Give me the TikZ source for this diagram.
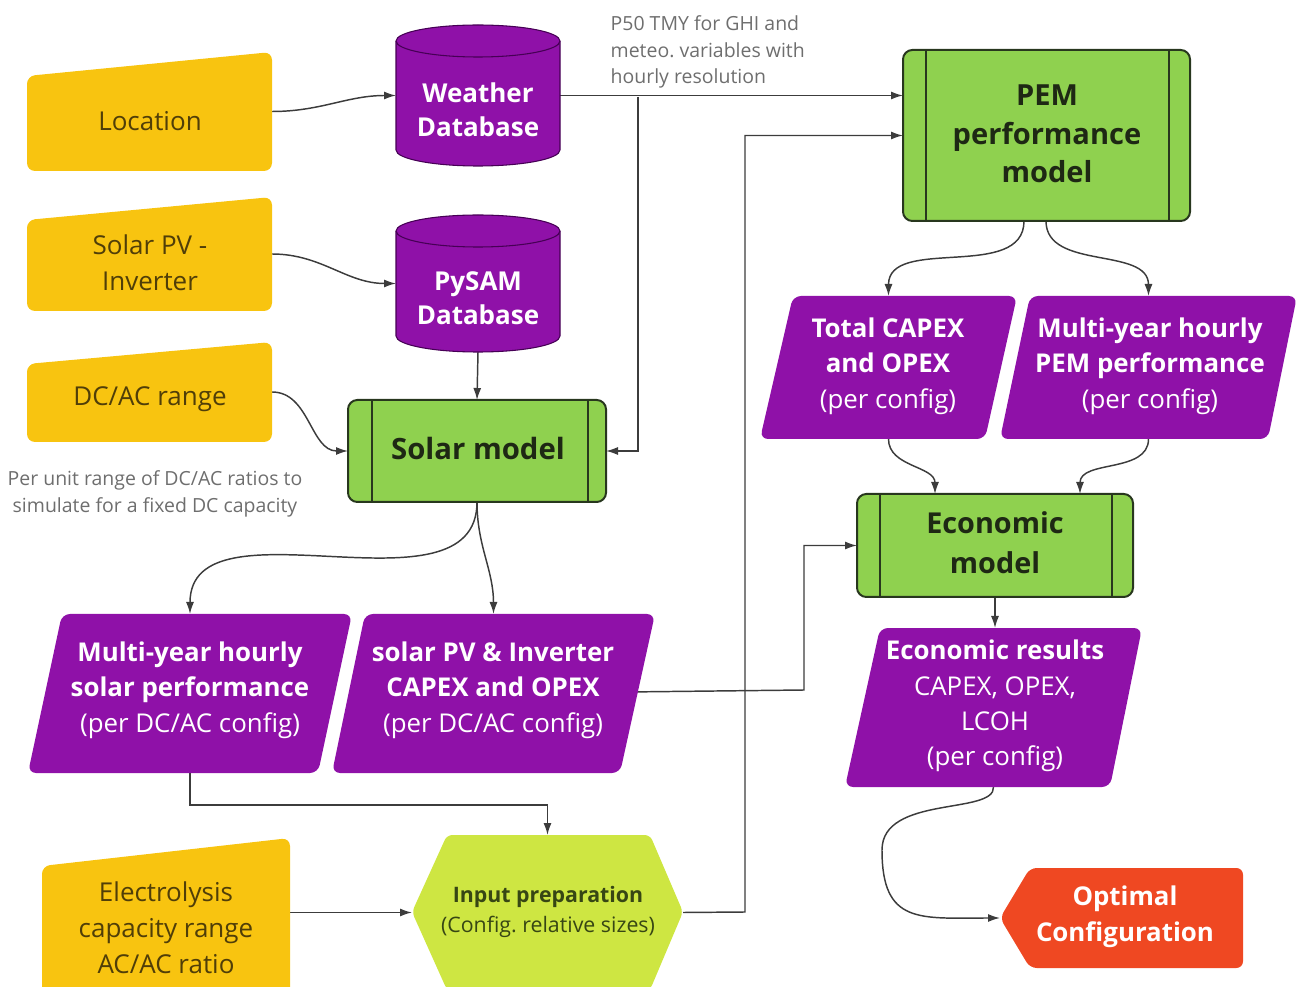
\documentclass[tikz,border=0pt]{standalone}
\usepackage{fontspec}
\setmainfont{Open Sans}
\usetikzlibrary{fit,calc,arrows.meta}
\frenchspacing
\definecolor{yel}{RGB}{248,196,16}
\definecolor{pur}{RGB}{143,17,168}
\definecolor{purd}{RGB}{70,0,85}
\definecolor{grn}{RGB}{143,209,79}
\definecolor{grnd}{RGB}{40,55,30}
\definecolor{lime}{RGB}{206,230,66}
\definecolor{org}{RGB}{239,72,34}
\definecolor{ytxt}{RGB}{80,62,8}
\definecolor{gtxt}{RGB}{30,40,20}
\definecolor{ltxt}{RGB}{55,70,20}
\definecolor{conn}{RGB}{60,60,60}
\definecolor{note}{RGB}{110,110,110}
\tikzset{
  box/.style={inner sep=0pt, outer sep=0pt},
  arr/.style={draw=conn, line width=1.1pt, -{Latex[length=9pt,width=6pt]}},
  yshape/.style={fill=yel, rounded corners=6pt},
  pshape/.style={fill=pur, rounded corners=6pt},
  gshape/.style={fill=grn, draw=grnd, line width=1.5pt, rounded corners=7pt},
  ylab/.style={align=center, text=ytxt, font=\fontsize{19.5}{27}\selectfont},
  plab/.style={align=center, text=white, font=\fontsize{19.4}{26.5}\selectfont},
  glab/.style={align=center, text=gtxt, font=\bfseries\fontsize{22}{30}\selectfont},
  notelab/.style={align=left, text=note, font=\fontsize{14.6}{20}\selectfont},
}
\begin{document}
\begin{tikzpicture}[x=0.75pt,y=-0.75pt]
\useasboundingbox (0,0) rectangle (1297,987);
\clip (0,0) rectangle (1297,987);
% ---------- invisible bounds of the shapes ----------
\node[box, fit={(27,52)(272,171)}] (loc) {};
\node[box, fit={(27,197)(272,311)}] (pv) {};
\node[box, fit={(27,342)(272,442)}] (dcac) {};
\node[box, fit={(42,838)(290,987)}] (elec) {};
\node[box, fit={(396,25)(560,166)}] (wdb) {};
\node[box, fit={(396,215)(560,352)}] (pdb) {};
\node[box, fit={(348,400)(606,502)}] (solar) {};
\node[box, fit={(903,50)(1190,221)}] (pem) {};
\node[box, fit={(760,296)(1017,439)}] (tcap) {};
\node[box, fit={(1000,296)(1297,439)}] (mpem) {};
\node[box, fit={(857,494)(1133,597)}] (econ) {};
\node[box, fit={(845,628)(1142,787)}] (eres) {};
\node[box, fit={(28,614)(352,773)}] (msol) {};
\node[box, fit={(332,614)(655,773)}] (spv) {};
\node[box, fit={(412,835)(683,990)}] (inp) {};
\node[box, fit={(1000,868)(1243,968)}] (opt) {};
\coordinate (jw) at (638,97);
\coordinate (pemA) at (1024,221);
\coordinate (pemB) at (1046,221);
% ---------- connectors ----------
\draw[arr] (loc.east) to[out=0,in=180] (wdb.west);
\draw[arr] (pv.east) to[out=0,in=180] (pdb.west);
\draw[arr] (dcac.east) to[out=0,in=180] (solar.west);
\draw[arr] (pdb.south) -- (solar.north);
\draw[arr] (wdb.east) -- (wdb.east -| pem.west);
\draw[arr] (jw) |- (solar.east);
\draw[arr] (inp.east) -- (745,912) |- (pem.west);
\draw[arr] (pemA) to[out=-90,in=90] (tcap.north);
\draw[arr] (pemB) to[out=-90,in=90] (mpem.north);
\draw[arr] (tcap.south) to[out=-90,in=90] ($(econ.north)+(-60,0)$);
\draw[arr] (mpem.south) to[out=-90,in=90] ($(econ.north)+(85,0)$);
\draw[arr] (spv.center) -- (804,690) |- (econ.west);
\draw[arr] (econ.south) -- (econ.south |- eres.north);
\draw[arr] (eres.south) .. controls (995,815) and (882,795) .. (882,850) .. controls (882,925) and (920,918) .. (opt.west);
\draw[arr] (msol.south) -- (190,805) -| (inp.north);
\draw[arr] (elec.east) -- (inp.west);
\draw[arr] (solar.south) to[out=-90,in=90] (msol.north);
\draw[arr] (solar.south) to[out=-90,in=90] (spv.north);
% ---------- shapes ----------
\fill[yshape] (27,76) -- (272,52) -- (272,171) -- (27,171) -- cycle;
\fill[yshape] (27,220) -- (272,197) -- (272,311) -- (27,311) -- cycle;
\fill[yshape] (27,364) -- (272,342) -- (272,442) -- (27,442) -- cycle;
\fill[yshape] (42,866) -- (290,838) -- (290,1010) -- (42,1010) -- cycle;
% cylinders
\foreach \t/\b in {25/166, 215/352}{
  \filldraw[fill=pur, draw=purd, line width=0.8pt]
    (396,\t+16) -- (396,\b-16) arc[start angle=180, end angle=0, x radius=82, y radius=16]
    -- (560,\t+16) arc[start angle=0, end angle=-180, x radius=82, y radius=16] -- cycle;
  \draw[purd, line width=0.8pt] (396,\t+16) arc[start angle=180, end angle=0, x radius=82, y radius=16];
}
% process boxes
\foreach \xa/\ya/\xb/\yb/\i/\j in {348/400/606/502/372/588, 903/50/1190/221/926/1169, 857/494/1133/597/880/1112}{
  \draw[gshape] (\xa,\ya) rectangle (\xb,\yb);
  \draw[grnd, line width=1.5pt] (\i,\ya) -- (\i,\yb) (\j,\ya) -- (\j,\yb);
}
% parallelograms
\fill[pshape] (793,296) -- (1017,296) -- (985,439) -- (760,439) -- cycle;
\fill[pshape] (1030,296) -- (1297,296) -- (1268,439) -- (1000,439) -- cycle;
\fill[pshape] (880,628) -- (1142,628) -- (1110,787) -- (845,787) -- cycle;
\fill[pshape] (62,614) -- (352,614) -- (318,773) -- (28,773) -- cycle;
\fill[pshape] (365,614) -- (655,614) -- (620,773) -- (332,773) -- cycle;
% hexagon
\fill[lime, rounded corners=4pt] (412,912) -- (447,835) -- (650,835) -- (683,912) -- (650,990) -- (447,990) -- cycle;
% optimal configuration
\fill[org, rounded corners=5pt] (1000,918) -- (1030,868) -- (1243,868) -- (1243,968) -- (1030,968) -- cycle;
% ---------- texts ----------
\node[ylab] at (150,121) {Location};
\node[ylab] at (150,263) {Solar PV -\\Inverter};
\node[ylab] at (150,399) {DC/AC range};
\node[ylab] at (166,928) {Electrolysis\\capacity range\\AC/AC ratio};
\node[plab, font=\bfseries\fontsize{19.5}{25.5}\selectfont] at (478,110) {Weather\\Database};
\node[plab, font=\bfseries\fontsize{19.5}{25.5}\selectfont] at (478,298) {PySAM\\Database};
\node[glab] at (478,449) {Solar model};
\node[glab, font=\bfseries\fontsize{21.8}{29}\selectfont] at (1047,134) {PEM\\performance\\model};
\node[glab, font=\bfseries\fontsize{21.6}{30}\selectfont] at (995,543) {Economic\\model};
\node[plab] at (888,366) {\textbf{Total CAPEX}\\\textbf{and OPEX}\\(per config)};
\node[plab] at (1150,366) {\textbf{Multi-year hourly}\\\textbf{PEM performance}\\(per config)};
\node[plab] at (190,690) {\textbf{Multi-year hourly}\\\textbf{solar performance}\\(per DC/AC config)};
\node[plab] at (493,690) {\textbf{solar PV \& Inverter}\\\textbf{CAPEX and OPEX}\\(per DC/AC config)};
\node[plab] at (995,706) {\textbf{Economic results}\\CAPEX, OPEX,\\LCOH\\(per config)};
\node[plab, font=\bfseries\fontsize{19.4}{27}\selectfont] at (1125,917) {Optimal\\Configuration};
\node[align=center, text=ltxt, font=\fontsize{16}{23}\selectfont] at (548,912) {\textbf{Input preparation}\\(Config. relative sizes)};
\node[notelab, anchor=north west] at (606,11) {P50 TMY for GHI and\\meteo. variables with\\hourly resolution};
\node[notelab, align=center] at (155,494) {Per unit range of DC/AC ratios to\\simulate for a fixed DC capacity};
\end{tikzpicture}
\end{document}
